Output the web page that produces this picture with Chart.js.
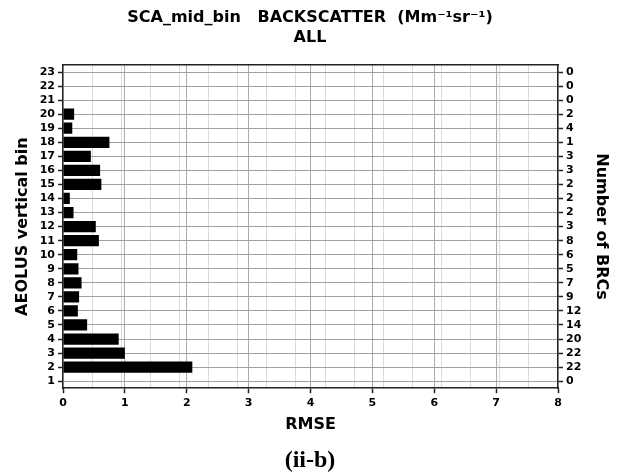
<!DOCTYPE html>
<html>
<head>
<meta charset="utf-8">
<script src="https://cdn.jsdelivr.net/npm/chart.js@4"></script>
<style>
  body { margin: 0; background: #fff; }
  #wrap { width: 620px; height: 476px; }
</style>
</head>
<body>
<div id="wrap"><canvas id="myChart" width="620" height="476"></canvas></div>
<script>
// data (bin 1 at the bottom)
const bins = ['1','2','3','4','5','6','7','8','9','10','11','12','13','14','15','16','17','18','19','20','21','22','23'];
const rmse = [null, 2.09, 1.00, 0.90, 0.39, 0.24, 0.26, 0.30, 0.25, 0.23, 0.58, 0.53, 0.17, 0.11, 0.62, 0.60, 0.45, 0.75, 0.15, 0.18, null, null, null];
const brcCount = ['0','22','22','20','14','12','9','7','5','6','8','3','2','2','2','3','3','1','4','2','0','0','0'];
const xTicks = [0, 1, 2, 3, 4, 5, 6, 7, 8];

const sans = "'DejaVu Sans', sans-serif";
const tickFont = { family: sans, size: 11, weight: 'bold' };
const labelFont = { family: sans, size: 16, weight: 'bold' };
const ink = '#000';

const ctx = document.getElementById('myChart');

new Chart(ctx, {
  type: 'bar',
  data: {
    labels: bins,
    datasets: [{
      label: 'RMSE',
      data: rmse,
      backgroundColor: '#000',
      borderWidth: 0,
      barPercentage: 0.8,
      categoryPercentage: 1.0,
      yAxisID: 'y',
      xAxisID: 'x'
    }]
  },
  options: {
    responsive: false,
    animation: false,
    indexAxis: 'y',
    layout: { padding: 0 },
    plugins: {
      legend: { display: false },
      tooltip: { enabled: false },
      title: {
        display: true,
        text: ['SCA_mid_bin   BACKSCATTER  (Mm\u207B\u00B9sr\u207B\u00B9)', 'ALL'],
        color: ink,
        font: { family: sans, size: 16, weight: 'bold', lineHeight: 1.25 },
        padding: { top: 8, bottom: 17 }
      },
      subtitle: {
        display: true,
        position: 'bottom',
        text: '(ii-b)',
        color: ink,
        font: { family: "'Liberation Serif', 'Times New Roman', serif", size: 24, weight: 'bold', lineHeight: 1.2 },
        padding: { top: 1, bottom: 1 }
      }
    },
    scales: {
      x: {
        type: 'linear',
        position: 'bottom',
        min: 0,
        max: 8,
        afterBuildTicks: s => { s.ticks = xTicks.map(v => ({ value: v })); },
        afterFit: s => { s.height = 57; },
        ticks: { color: ink, font: tickFont, padding: 3, maxRotation: 0 },
        grid: { color: '#ababab', lineWidth: 1, tickColor: '#222', tickLength: 5, tickWidth: 1.5 },
        border: { color: '#222', width: 1.5 },
        title: { display: true, text: 'RMSE', color: ink, font: labelFont, padding: { top: 4, bottom: 11 } }
      },
      x2: {
        type: 'linear',
        position: 'top',
        min: 0,
        max: 17,
        afterFit: s => { s.height = 0; },
        ticks: { display: false, stepSize: 1 },
        grid: { color: '#dadada', lineWidth: 1, drawTicks: false },
        border: { color: '#222', width: 1.5 }
      },
      y: {
        type: 'category',
        position: 'left',
        reverse: true,
        offset: true,
        afterFit: s => { s.width = 63; },
        ticks: { color: ink, font: tickFont, padding: 3, autoSkip: false },
        grid: { offset: false, color: '#a0a0a0', borderDash: [1, 1], lineWidth: 1, tickColor: '#222', tickLength: 5, tickWidth: 1.5 },
        border: { color: '#222', width: 1.5 },
        title: { display: true, text: 'AEOLUS vertical bin', color: ink, font: labelFont, padding: { top: 13, bottom: 0 } }
      },
      y2: {
        type: 'category',
        position: 'right',
        labels: brcCount,
        reverse: true,
        offset: true,
        afterFit: s => { s.width = 62; },
        ticks: { color: ink, font: tickFont, padding: 3, autoSkip: false },
        grid: { offset: false, drawOnChartArea: false, tickColor: '#222', tickLength: 5, tickWidth: 1.5 },
        border: { color: '#222', width: 1.5 },
        title: { display: true, text: 'Number of BRCs', color: ink, font: labelFont, padding: { top: 9, bottom: 0 } }
      }
    }
  }
});
</script>
</body>
</html>
